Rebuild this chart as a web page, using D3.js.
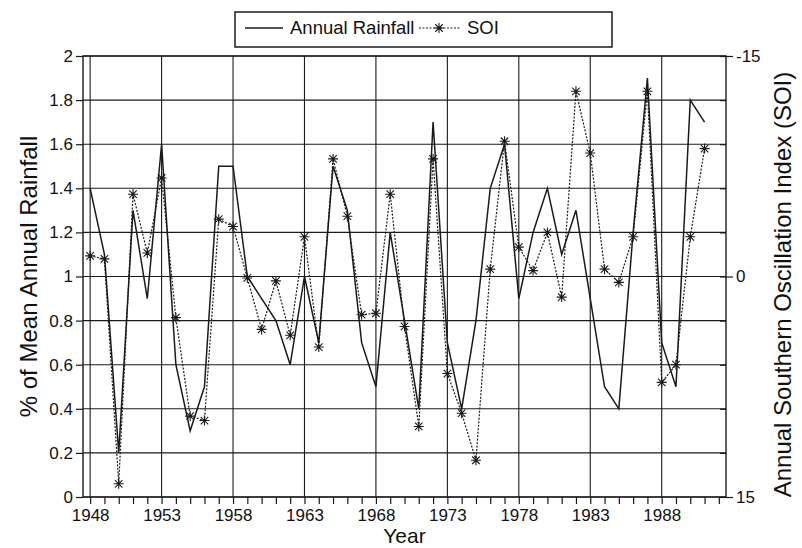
<!DOCTYPE html>
<html>
<head>
<meta charset="utf-8">
<script src="https://cdn.jsdelivr.net/npm/d3@7"></script>
<style>
  body { margin: 0; background: #fff; }
  svg { display: block; }
  text { font-family: "Liberation Sans", Arial, Helvetica, sans-serif; fill: #111; }
</style>
</head>
<body>
<svg id="chart"></svg>
<script>
// Data
const years = d3.range(1948, 1992)
const rainfall = [1.4, 1.1, 0.2, 1.3, 0.9, 1.6, 0.6, 0.3, 0.5, 1.5,
                  1.5, 1.0, 0.9, 0.8, 0.6, 1.0, 0.7, 1.5, 1.3, 0.7,
                  0.5, 1.2, 0.8, 0.4, 1.7, 0.7, 0.4, 0.8, 1.4, 1.6,
                  0.9, 1.2, 1.4, 1.1, 1.3, 0.9, 0.5, 0.4, 1.2, 1.9,
                  0.7, 0.5, 1.8, 1.7]
const soi = [-1.4, -1.2, 14.1, -5.6, -1.6, -6.7, 2.8, 9.5, 9.8, -3.9,
             -3.4, 0.1, 3.6, 0.3, 4.0, -2.7, 4.8, -8.0, -4.1, 2.6,
             2.5, -5.6, 3.4, 10.2, -8.0, 6.6, 9.3, 12.5, -0.5, -9.2,
             -2.0, -0.4, -3.0, 1.4, -12.6, -8.4, -0.5, 0.4, -2.7, -12.6,
             7.2, 6.0, -2.7, -8.7]
const leftTicks = d3.range(0, 2.01, 0.2).map(v => +v.toFixed(1))
const rightTicks = d3.range(-15, 16, 3)
const rightLabels = [-15, 0, 15]
const yearLabels = d3.range(1948, 1992, 5)
const yearTicks = d3.range(1948, 1993)

const width = 802, height = 548
const margin = {top: 56, right: 76, bottom: 51, left: 83}

const svg = d3.select("#chart").attr("width", width).attr("height", height)

const x = d3.scaleLinear().domain([1947.5, 1992.5]).range([margin.left, width - margin.right])
const y = d3.scaleLinear().domain([0, 2]).range([height - margin.bottom, margin.top])
const ySoi = d3.scaleLinear().domain([15, -15]).range([height - margin.bottom, margin.top])

const ink = "#1a1a1a"

// Grid
svg.append("g")
  .selectAll("line")
  .data(leftTicks)
  .enter().append("line")
  .attr("x1", x.range()[0]).attr("x2", x.range()[1])
  .attr("y1", d => y(d)).attr("y2", d => y(d))
  .attr("stroke", ink).attr("stroke-width", 1.1)

svg.append("g")
  .selectAll("line")
  .data(yearLabels)
  .enter().append("line")
  .attr("x1", d => x(d)).attr("x2", d => x(d))
  .attr("y1", y.range()[0]).attr("y2", y.range()[1])
  .attr("stroke", ink).attr("stroke-width", 1.1)

// Frame
svg.append("rect")
  .attr("x", x.range()[0]).attr("y", y.range()[1])
  .attr("width", x.range()[1] - x.range()[0])
  .attr("height", y.range()[0] - y.range()[1])
  .attr("fill", "none").attr("stroke", ink).attr("stroke-width", 1.4)

// Left axis
const leftAxis = svg.append("g")
  .attr("transform", `translate(${x.range()[0]},0)`)
  .call(d3.axisLeft(y).tickValues(leftTicks).tickSize(7).tickPadding(3).tickFormat(d3.format("~g")))
leftAxis.select(".domain").remove()
leftAxis.selectAll("line").attr("stroke", ink).attr("stroke-width", 1.2)
leftAxis.selectAll("text").attr("font-size", 17).attr("font-family", null).attr("fill", ink)

// Right axis
const rightAxis = svg.append("g")
  .attr("transform", `translate(${x.range()[1]},0)`)
  .call(d3.axisRight(ySoi).tickValues(rightTicks).tickSize(0).tickPadding(10)
    .tickFormat(d => rightLabels.includes(d) ? d : ""))
rightAxis.select(".domain").remove()
rightAxis.selectAll(".tick line")
  .attr("x1", d => -6)
  .attr("x2", d => rightLabels.includes(d) ? 7 : 0)
  .attr("stroke", ink).attr("stroke-width", 1.2)
rightAxis.selectAll("text").attr("font-size", 17).attr("font-family", null).attr("fill", ink)

// Bottom axis
const bottomAxis = svg.append("g")
  .attr("transform", `translate(0,${y.range()[0]})`)
  .call(d3.axisBottom(x).tickValues(yearTicks).tickSize(7).tickPadding(5)
    .tickFormat(d => yearLabels.includes(d) ? d : ""))
bottomAxis.select(".domain").remove()
bottomAxis.selectAll("line").attr("stroke", ink).attr("stroke-width", 1.2)
bottomAxis.selectAll("text").attr("font-size", 17).attr("font-family", null).attr("fill", ink)

// Axis titles
svg.append("text")
  .text("Year")
  .attr("x", (x.range()[0] + x.range()[1]) / 2)
  .attr("y", 543)
  .attr("text-anchor", "middle")
  .attr("font-size", 21)

svg.append("text")
  .text("% of Mean Annual Rainfall")
  .attr("transform", `translate(37,${(y.range()[0] + y.range()[1]) / 2}) rotate(-90)`)
  .attr("text-anchor", "middle")
  .attr("font-size", 24)

svg.append("text")
  .text("Annual Southern Oscillation Index (SOI)")
  .attr("transform", `translate(791,${(y.range()[0] + y.range()[1]) / 2 + 8}) rotate(-90)`)
  .attr("text-anchor", "middle")
  .attr("font-size", 24)

// Series
const rainLine = d3.line().x((d, i) => x(years[i])).y(d => y(d))
svg.append("path")
  .datum(rainfall)
  .attr("d", rainLine)
  .attr("fill", "none").attr("stroke", ink).attr("stroke-width", 1.5)

const soiLine = d3.line().x((d, i) => x(years[i])).y(d => ySoi(d))
svg.append("path")
  .datum(soi)
  .attr("d", soiLine)
  .attr("fill", "none").attr("stroke", ink).attr("stroke-width", 1.2)
  .attr("stroke-dasharray", "2,1.5")

const star = (g, r) => {
  g.append("path")
    .attr("d", `M${-r},0H${r}M0,${-r}V${r}M${-r * 0.75},${-r * 0.75}L${r * 0.75},${r * 0.75}M${-r * 0.75},${r * 0.75}L${r * 0.75},${-r * 0.75}`)
    .attr("stroke", ink).attr("stroke-width", 1.1).attr("fill", "none")
}

svg.append("g")
  .selectAll("g")
  .data(soi)
  .enter().append("g")
  .attr("transform", (d, i) => `translate(${x(years[i])},${ySoi(d)})`)
  .each(function() { star(d3.select(this), 5) })

// Legend
const legend = svg.append("g")
legend.append("rect")
  .attr("x", 235).attr("y", 12).attr("width", 377).attr("height", 35)
  .attr("fill", "#fff").attr("stroke", ink).attr("stroke-width", 1.5)
legend.append("line")
  .attr("x1", 245).attr("x2", 283).attr("y1", 28).attr("y2", 28)
  .attr("stroke", ink).attr("stroke-width", 1.5)
legend.append("text")
  .text("Annual Rainfall")
  .attr("x", 290).attr("y", 34)
  .attr("font-size", 18.5)
legend.append("line")
  .attr("x1", 419).attr("x2", 460).attr("y1", 28).attr("y2", 28)
  .attr("stroke", ink).attr("stroke-width", 1.2).attr("stroke-dasharray", "2,1.5")
legend.append("g")
  .attr("transform", "translate(439,28)")
  .call(g => star(g, 5))
legend.append("text")
  .text("SOI")
  .attr("x", 467).attr("y", 34)
  .attr("font-size", 18.5)
</script>
</body>
</html>
